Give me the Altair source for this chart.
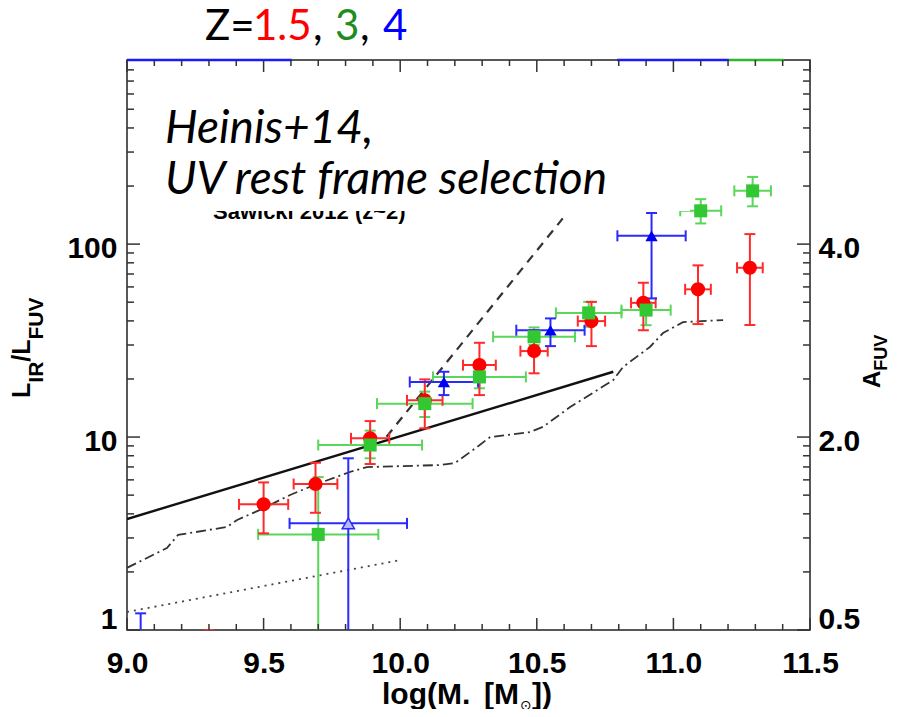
import altair as alt
import pandas as pd

# ---------------- data ----------------
# z = 1.5 (red circles)
red_m  = [9.30, 9.50, 9.69, 9.89, 10.09, 10.29, 10.49, 10.70, 10.89, 11.09, 11.28]
red_v  = [0.70, 4.48, 5.71, 9.85, 15.5, 23.6, 27.9, 39.9, 49.6, 58.3, 75.4]
red_lo = [0.50, 3.17, 4.05, 7.25, 11.1, 16.5, 21.4, 29.6, 35.8, 38.5, 38.1]
red_hi = [1.00, 5.82, 7.36, 12.1, 19.9, 30.8, 35.8, 50.2, 63.0, 77.6, 112.7]
red_dm = [0.09, 0.09, 0.08, 0.07, 0.065, 0.06, 0.05, 0.05, 0.045, 0.047, 0.047]

# z = 3 (green squares)
green_m  = [9.70, 9.89, 10.09, 10.29, 10.49, 10.69, 10.90, 11.10, 11.29]
green_v  = [3.13, 9.09, 14.9, 20.5, 33.1, 44.0, 45.5, 148.8, 188.8]
green_lo = [0.50, 7.76, 12.7, 17.9, 30.0, 37.3, 38.0, 128.0, 157.0]
green_hi = [6.20, 10.8, 17.2, 23.1, 37.0, 50.2, 50.0, 171.0, 223.0]
green_dm = [0.22, 0.19, 0.175, 0.17, 0.15, 0.12, 0.09, 0.075, 0.067]

# z = 4 (blue triangles)
blue_m  = [9.05, 10.16, 10.55, 10.92]
blue_v  = [0.70, 19.3, 35.8, 110.4]
blue_lo = [0.50, 16.5, 29.6, 52.3]
blue_hi = [1.22, 21.8, 41.2, 145.0]
blue_dm = [0.02, 0.125, 0.125, 0.125]
# open triangle
blue_open_m  = [9.81]
blue_open_v  = [3.57]
blue_open_lo = [0.50]
blue_open_hi = [7.76]
blue_open_dm = [0.215]

# reference relations
solid_m  = [9.0, 10.78]
solid_v  = [3.76, 21.8]
dashed_m = [9.95, 10.595]
dashed_v = [10.04, 135.9]
dotted_m = [9.0, 10.005]
dotted_v = [1.24, 2.31]
dashdot_m = [9.0, 9.146, 9.187, 9.366, 9.403, 9.487, 9.597, 9.695, 9.816, 9.878,
             10.146, 10.20, 10.281, 10.329, 10.475, 10.523, 10.622, 10.779, 10.816,
             10.914, 10.962, 11.035, 11.182]
dashdot_v = [2.10, 2.66, 3.11, 3.42, 3.72, 4.19, 5.01, 5.71, 6.59, 6.99,
             7.16, 7.33, 8.87, 10.0, 10.6, 11.3, 14.3, 19.7, 23.1,
             29.3, 34.6, 39.4, 40.4]

# coloured segments along the top frame
top_seg_start = [9.0, 10.794, 11.203]
top_seg_end   = [9.603, 11.203, 11.405]
top_seg_color = ["#1a1aff", "#1a1aff", "#2fb82f"]

# axis ticks
y_major = [1, 10, 100]
y_minor = [2, 3, 4, 5, 6, 7, 8, 9, 20, 30, 40, 50, 60, 70, 80, 90,
           200, 300, 400, 500, 600, 700, 800]
x_major = [9.0, 9.5, 10.0, 10.5, 11.0, 11.5]
x_minor = [9.1, 9.2, 9.3, 9.4, 9.6, 9.7, 9.8, 9.9, 10.1, 10.2, 10.3, 10.4,
           10.6, 10.7, 10.8, 10.9, 11.1, 11.2, 11.3, 11.4]
right_labels = ["0.5", "2.0", "4.0"]

# texts
title_parts  = ["Z=", "1.5", ",", "3", ",", "4"]
title_colors = ["black", "#ff0000", "black", "#1e8c1e", "black", "#0000ff"]
note_lines   = ["Heinis+14,", "UV rest frame selection"]
hidden_label = "Sawicki 2012 (z~2)"

# ---------------- chart ----------------
W, H = 683, 570
FONT = "Liberation Sans, Arial, Helvetica, sans-serif"
xs = alt.Scale(domain=[9.0, 11.5], nice=False, zero=False)
ys = alt.Scale(type="log", domain=[1, 900], nice=False)


def X(f, axis=None):
    return alt.X(f, type="quantitative", scale=xs, axis=axis)


def Y(f, axis=None):
    return alt.Y(f, type="quantitative", scale=ys, axis=axis)


def make_df(m, v, lo, hi, dm):
    return pd.DataFrame({"m": m, "v": v, "lo": lo, "hi": hi,
                         "mlo": [a - d for a, d in zip(m, dm)],
                         "mhi": [a + d for a, d in zip(m, dm)]})


def err_layers(df, col):
    b = alt.Chart(df)
    return [
        b.mark_rule(color=col, strokeWidth=2, clip=True).encode(x=X("m"), y=Y("lo"), y2="hi"),
        b.mark_rule(color=col, strokeWidth=2, clip=True).encode(x=X("mlo"), x2="mhi", y=Y("v")),
        b.mark_tick(color=col, thickness=2, size=11, orient="horizontal", clip=True, opacity=1).encode(x=X("m"), y=Y("hi")),
        b.mark_tick(color=col, thickness=2, size=11, orient="horizontal", clip=True, opacity=1).encode(x=X("m"), y=Y("lo")),
        b.mark_tick(color=col, thickness=2, size=11, orient="vertical", clip=True, opacity=1).encode(x=X("mlo"), y=Y("v")),
        b.mark_tick(color=col, thickness=2, size=11, orient="vertical", clip=True, opacity=1).encode(x=X("mhi"), y=Y("v")),
    ]


red_df = make_df(red_m, red_v, red_lo, red_hi, red_dm)
green_df = make_df(green_m, green_v, green_lo, green_hi, green_dm)
blue_df = make_df(blue_m, blue_v, blue_lo, blue_hi, blue_dm)
blue_open_df = make_df(blue_open_m, blue_open_v, blue_open_lo, blue_open_hi, blue_open_dm)

layers = []

# reference lines
layers.append(alt.Chart(pd.DataFrame({"m": dotted_m, "v": dotted_v})).mark_line(
    color="#444", strokeWidth=1.8, strokeDash=[2, 5], clip=True).encode(x=X("m"), y=Y("v")))
layers.append(alt.Chart(pd.DataFrame({"m": dashdot_m, "v": dashdot_v})).mark_line(
    color="#333", strokeWidth=1.8, strokeDash=[10, 4, 2, 4], clip=True).encode(x=X("m"), y=Y("v")))
layers.append(alt.Chart(pd.DataFrame({"m": solid_m, "v": solid_v})).mark_line(
    color="#111", strokeWidth=2.4, clip=True).encode(x=X("m"), y=Y("v")))
layers.append(alt.Chart(pd.DataFrame({"m": dashed_m, "v": dashed_v})).mark_line(
    color="#333", strokeWidth=2.2, strokeDash=[9, 7], clip=True).encode(x=X("m"), y=Y("v")))

# error bars
layers += err_layers(green_df, "#5ad65a")
layers += err_layers(red_df, "#ff2a2a")
layers += err_layers(blue_df, "#2a2aff")
layers += err_layers(blue_open_df, "#2a2aff")

# markers
layers.append(alt.Chart(red_df).mark_point(shape="circle", filled=True, size=200, color="#ff0000",
                                           opacity=1, clip=True).encode(x=X("m"), y=Y("v")))
layers.append(alt.Chart(green_df).mark_point(shape="square", filled=True, size=170, color="#33c733",
                                             opacity=1, clip=True).encode(x=X("m"), y=Y("v")))
layers.append(alt.Chart(blue_df).mark_point(shape="triangle-up", filled=True, size=150, color="#0000f0",
                                            opacity=1, clip=True).encode(x=X("m"), y=Y("v")))
layers.append(alt.Chart(blue_open_df).mark_point(shape="triangle-up", filled=True, size=150, color="#b4b8ff",
                                                 stroke="#2a2aff", strokeWidth=1.5, opacity=1,
                                                 clip=True).encode(x=X("m"), y=Y("v")))

# coloured segments on the top frame
layers.append(alt.Chart(pd.DataFrame({"a": top_seg_start, "b": top_seg_end, "c": top_seg_color})).mark_rule(
    strokeWidth=2.5).encode(x=X("a"), x2="b", y=alt.value(0), color=alt.Color("c:N", scale=None)))

# hidden label, then the white text box over it
layers.append(alt.Chart(pd.DataFrame({"t": [hidden_label]})).mark_text(
    font=FONT, fontSize=22, fontWeight="bold", align="left", baseline="alphabetic", color="black").encode(
    text="t:N", x=alt.value(86), y=alt.value(159)))
layers.append(alt.Chart(pd.DataFrame({"t": ["box"]})).mark_rect(color="white", opacity=1).encode(
    x=alt.value(18), x2=alt.value(563), y=alt.value(14), y2=alt.value(151)))
for i, line in enumerate(note_lines):
    layers.append(alt.Chart(pd.DataFrame({"t": [line]})).mark_text(
        font="Lato", fontSize=46, fontStyle="italic", align="left", baseline="alphabetic", color="black").encode(
        text="t:N", x=alt.value(38), y=alt.value(83 + 51 * i)))

# title with coloured redshifts
title_x = [78, 126, 186, 208, 233, 256]
for part, col, px in zip(title_parts, title_colors, title_x):
    layers.append(alt.Chart(pd.DataFrame({"t": [part]})).mark_text(
        font="Lato", fontSize=42, align="left", baseline="alphabetic", color=col).encode(
        text="t:N", x=alt.value(px), y=alt.value(-20)))

# inward ticks
TICK = "#333"
ymaj = pd.DataFrame({"v": y_major})
ymin = pd.DataFrame({"v": y_minor})
xmaj = pd.DataFrame({"m": x_major})
xmin = pd.DataFrame({"m": x_minor})
layers += [
    alt.Chart(ymaj).mark_rule(color=TICK, strokeWidth=1.5).encode(y=Y("v"), x=alt.value(0), x2=alt.value(13)),
    alt.Chart(ymin).mark_rule(color=TICK, strokeWidth=1.5).encode(y=Y("v"), x=alt.value(0), x2=alt.value(7)),
    alt.Chart(ymaj).mark_rule(color=TICK, strokeWidth=1.5).encode(y=Y("v"), x=alt.value(W - 13), x2=alt.value(W)),
    alt.Chart(ymin).mark_rule(color=TICK, strokeWidth=1.5).encode(y=Y("v"), x=alt.value(W - 7), x2=alt.value(W)),
    alt.Chart(xmaj).mark_rule(color=TICK, strokeWidth=1.5).encode(x=X("m"), y=alt.value(H - 12), y2=alt.value(H)),
    alt.Chart(xmin).mark_rule(color=TICK, strokeWidth=1.5).encode(x=X("m"), y=alt.value(H - 6), y2=alt.value(H)),
    alt.Chart(xmaj).mark_rule(color=TICK, strokeWidth=1.5).encode(x=X("m"), y=alt.value(0), y2=alt.value(12)),
    alt.Chart(xmin).mark_rule(color=TICK, strokeWidth=1.5).encode(x=X("m"), y=alt.value(0), y2=alt.value(6)),
]

# axes (labels only)
lab = dict(labelFont=FONT, labelFontSize=30, labelFontWeight="bold", labelColor="black",
           ticks=False, domain=False, grid=False, title=None, labelOverlap=False)
ax_bottom = alt.Axis(values=x_major, format=".1f", labelPadding=18, labelFlush=False, **lab)
ax_left = alt.Axis(values=y_major, format="d", labelPadding=10, labelFlush=True, labelOffset=4, **lab)
ax_right = alt.Axis(values=y_major, orient="right", labelPadding=8, labelFlush=True, labelOffset=4,
                    labelExpr="datum.value == 1 ? '%s' : datum.value == 10 ? '%s' : '%s'" % tuple(right_labels),
                    **lab)
layers.append(alt.Chart(pd.DataFrame({"m": x_major[:3], "v": y_major})).mark_point(opacity=0).encode(
    x=X("m", ax_bottom), y=Y("v", ax_left)))
layers.append(alt.Chart(pd.DataFrame({"m": x_major[:3], "v": y_major})).mark_point(opacity=0).encode(
    x=X("m"), y=Y("v", ax_right)))


# axis titles (pieces with subscripts)
def txt(s, px, py, size, angle=0, font=FONT, weight="bold"):
    return alt.Chart(pd.DataFrame({"t": [s]})).mark_text(
        font=font, fontSize=size, fontWeight=weight, align="left", baseline="alphabetic",
        angle=angle, color="black").encode(text="t:N", x=alt.value(px), y=alt.value(py))


# left: L_IR / L_FUV
layers += [
    txt("L", -97, 338, 25, 270),
    txt("IR", -84, 322.7, 21, 270),
    txt("/L", -97, 301.7, 25, 270),
    txt("FUV", -84, 279.5, 21, 270),
]
# right: A_FUV
layers += [
    txt("A", 753, 328, 24, 270),
    txt("FUV", 760, 310.7, 18, 270),
]
# bottom: log(M* [Msun])
layers += [
    txt("log(M.", 255, 644, 30),
    txt("[M", 357, 644, 30),
    txt("\u2299", 393, 650, 14, font="DejaVu Sans", weight="normal"),
    txt("])", 405, 644, 30),
]

chart = alt.layer(*layers).resolve_axis(x="independent", y="independent").properties(
    width=W, height=H,
    autosize=alt.AutoSizeParams(type="none"),
    padding={"left": 119, "top": 52, "right": 84, "bottom": 79},
).configure(background="white").configure_view(stroke="#222", strokeWidth=1.5)

chart.save("out.html", embed_options={"renderer": "svg", "actions": False})
